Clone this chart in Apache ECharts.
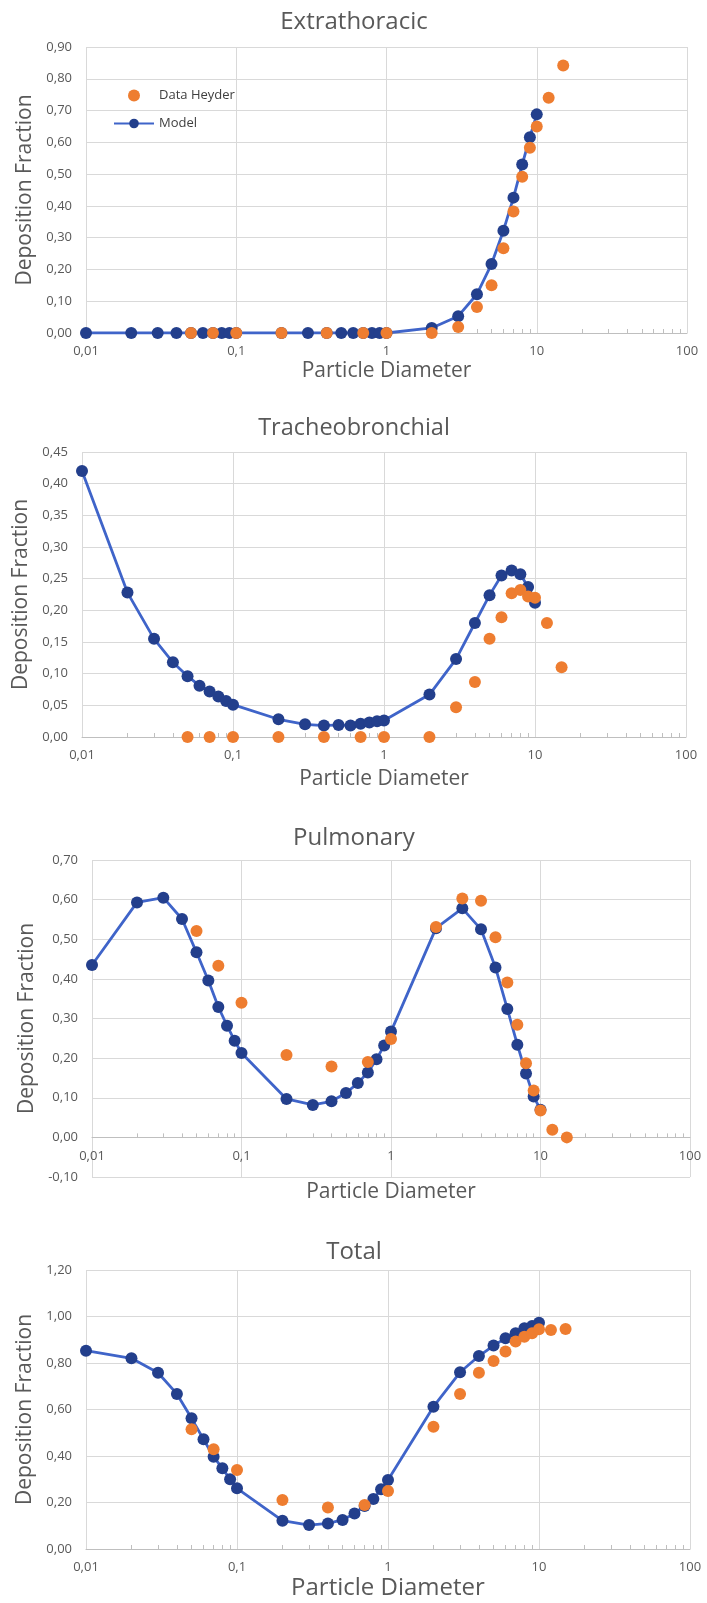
<!DOCTYPE html>
<html>
<head>
<meta charset="utf-8">
<script src="https://cdn.jsdelivr.net/npm/echarts@6/dist/echarts.min.js"></script>
<style>
  html, body { margin: 0; padding: 0; background: #ffffff; }
  #chart { width: 707px; height: 1603px; }
</style>
</head>
<body>
<div id="chart"></div>
<script>
// Particle diameters of the model curve and of the Heyder measurements
const xModel = [0.01, 0.02, 0.03, 0.04, 0.05, 0.06, 0.07, 0.08, 0.09,
                0.1, 0.2, 0.3, 0.4, 0.5, 0.6, 0.7, 0.8, 0.9,
                1, 2, 3, 4, 5, 6, 7, 8, 9, 10];
const xHeyder = [0.05, 0.07, 0.1, 0.2, 0.4, 0.7, 1, 2, 3, 4, 5, 6, 7, 8, 9, 10, 12, 15];

// Extrathoracic
const etModel = [0, 0, 0, 0, 0, 0, 0, 0, 0,
                 0, 0, 0, 0, 0, 0, 0, 0, 0,
                 0, 0.016, 0.053, 0.122, 0.217, 0.322, 0.426, 0.53, 0.616, 0.688];
const etHeyder = [0, 0, 0, 0, 0, 0, 0, 0, 0.019, 0.082, 0.15, 0.267, 0.382, 0.492, 0.583, 0.65, 0.74, 0.842];

// Tracheobronchial
const tbModel = [0.42, 0.228, 0.155, 0.118, 0.096, 0.081, 0.072, 0.064, 0.057,
                 0.051, 0.028, 0.020, 0.018, 0.019, 0.018, 0.021, 0.023, 0.025,
                 0.026, 0.067, 0.123, 0.18, 0.224, 0.255, 0.263, 0.257, 0.237, 0.212];
const tbHeyder = [0, 0, 0, 0, 0, 0, 0, 0, 0.047, 0.087, 0.155, 0.189, 0.227, 0.232, 0.222, 0.22, 0.18, 0.11];

// Pulmonary
const puModel = [0.435, 0.593, 0.605, 0.551, 0.467, 0.396, 0.329, 0.282, 0.244,
                 0.213, 0.097, 0.082, 0.091, 0.112, 0.137, 0.164, 0.197, 0.232,
                 0.267, 0.528, 0.578, 0.525, 0.429, 0.324, 0.234, 0.161, 0.103, 0.07];
const puHeyder = [0.521, 0.433, 0.34, 0.208, 0.179, 0.19, 0.248, 0.531, 0.603, 0.597, 0.505, 0.391, 0.284, 0.187, 0.118, 0.068, 0.019, 0.0];

// Total
const toModel = [0.853, 0.82, 0.758, 0.667, 0.562, 0.472, 0.397, 0.347, 0.30,
                 0.261, 0.122, 0.103, 0.11, 0.125, 0.153, 0.185, 0.215, 0.257,
                 0.297, 0.612, 0.76, 0.83, 0.875, 0.906, 0.928, 0.949, 0.959, 0.973];
const toHeyder = [0.515, 0.429, 0.34, 0.211, 0.178, 0.189, 0.249, 0.526, 0.667, 0.758, 0.809, 0.849, 0.892, 0.913, 0.928, 0.945, 0.942, 0.946];

const titles = ['Extrathoracic', 'Tracheobronchial', 'Pulmonary', 'Total'];
const modelSets = [etModel, tbModel, puModel, toModel];
const heyderSets = [etHeyder, tbHeyder, puHeyder, toHeyder];
const yMin = [0, 0, -0.1, 0];
const yMax = [0.9, 0.45, 0.7, 1.2];
const yStep = [0.1, 0.05, 0.1, 0.2];
const xTickLabels = { '-2': '0,01', '-1': '0,1', '0': '1', '1': '10', '2': '100' };

// Panel layout (pixels)
const grids = [
  { left: 86, top: 47,   width: 601, height: 286 },
  { left: 82, top: 452,  width: 604, height: 285 },
  { left: 92, top: 860,  width: 598, height: 317 },
  { left: 86, top: 1270, width: 604, height: 279 }
];
const titleTops = [10, 416, 826, 1240];
const titleSizes = [24, 23.5, 24, 24];
const xNameGap = [28, 32, 44, 27];
const xNameSize = [21, 21, 21, 24];
const yNameGap = [47, 48, 53, 47];

const TEXT = '#595959';
const GRID_LINE = '#D9D9D9';
const AXIS_LINE = '#BFBFBF';
const ORANGE = '#EE7D30';
const LINE_BLUE = '#3F64C9';
const MARKER_NAVY = '#233F8C';
const FONT = '"Open Sans", "Noto Sans", sans-serif';

const fmtY = v => v.toFixed(2).replace('.', ',');
const fmtX = v => {
  const k = String(Math.round(Math.log10(v)));
  return xTickLabels[k] !== undefined ? xTickLabels[k] : '';
};

// The diameter axis sits on the zero line of each value axis
const zeroOffset = i => -grids[i].height * (0 - yMin[i]) / (yMax[i] - yMin[i]);

const option = {
  animation: false,
  textStyle: { fontFamily: FONT },
  title: titles.map((t, i) => ({
    text: t,
    left: 354,
    textAlign: 'center',
    top: titleTops[i],
    padding: 0,
    textStyle: { fontSize: titleSizes[i], fontWeight: 'normal', color: TEXT, fontFamily: FONT }
  })),
  legend: {
    orient: 'vertical',
    left: 108,
    top: 84,
    itemWidth: 40,
    itemHeight: 12,
    itemGap: 15,
    data: ['Data Heyder', 'Model'],
    textStyle: { fontSize: 13, color: '#404040', fontFamily: FONT }
  },
  grid: grids,
  xAxis: grids.map((g, i) => ({
    type: 'log',
    logBase: 10,
    gridIndex: i,
    min: 0.01,
    max: 100,
    offset: zeroOffset(i),
    name: 'Particle Diameter',
    nameLocation: 'middle',
    nameGap: xNameGap[i],
    nameTextStyle: { fontSize: xNameSize[i], color: TEXT, fontFamily: FONT },
    axisLine: { show: true, onZero: false, lineStyle: { color: AXIS_LINE, width: 1 } },
    axisTick: { show: false, inside: true },
    minorTick: { show: true, splitNumber: 9, length: 4, lineStyle: { color: AXIS_LINE } },
    splitLine: { show: true, lineStyle: { color: GRID_LINE, width: 1 } },
    minorSplitLine: { show: false },
    axisLabel: { formatter: fmtX, color: TEXT, fontSize: 13, margin: 12, fontFamily: FONT }
  })),
  yAxis: grids.map((g, i) => ({
    type: 'value',
    gridIndex: i,
    min: yMin[i],
    max: yMax[i],
    interval: yStep[i],
    name: 'Deposition Fraction',
    nameLocation: 'middle',
    nameGap: yNameGap[i],
    nameTextStyle: { fontSize: 21, color: TEXT, fontFamily: FONT },
    axisLine: { show: false },
    axisTick: { show: false },
    splitLine: { show: true, lineStyle: { color: GRID_LINE, width: 1 } },
    axisLabel: { formatter: fmtY, color: TEXT, fontSize: 13, margin: 14, fontFamily: FONT }
  })),
  series: []
};

modelSets.forEach((vals, i) => {
  option.series.push({
    name: 'Model',
    type: 'line',
    xAxisIndex: i,
    yAxisIndex: i,
    data: xModel.map((x, k) => [x, vals[k]]),
    symbol: 'circle',
    symbolSize: 12,
    showSymbol: true,
    lineStyle: { color: LINE_BLUE, width: 2.8 },
    itemStyle: { color: MARKER_NAVY },
    z: 2
  });
});
heyderSets.forEach((vals, i) => {
  option.series.push({
    name: 'Data Heyder',
    type: 'scatter',
    xAxisIndex: i,
    yAxisIndex: i,
    data: xHeyder.map((x, k) => [x, vals[k]]),
    symbol: 'circle',
    symbolSize: 12,
    itemStyle: { color: ORANGE, opacity: 1 },
    z: 3
  });
});

const chart = echarts.init(document.getElementById('chart'), null, { renderer: 'canvas' });
chart.setOption(option);
</script>
</body>
</html>
